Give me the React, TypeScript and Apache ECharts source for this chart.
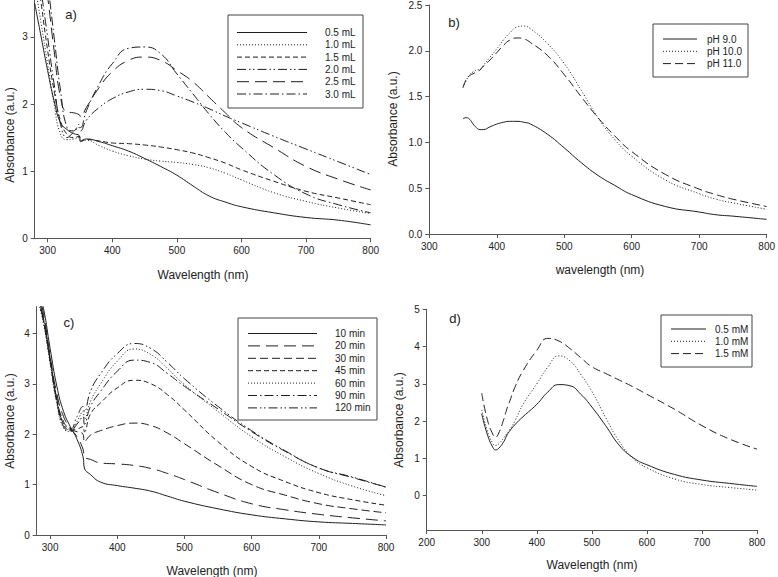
import React, { useEffect, useRef } from "react";
import * as echarts from "echarts";

// ---------- Panel a ----------
const aX = [280, 290, 300, 310, 320, 330, 340, 349, 351, 360, 380, 400, 425, 450, 475, 500, 525, 550, 575, 600, 650, 700, 750, 800];
const a05 = [3.5, 3.0, 2.5, 2.05, 1.72, 1.62, 1.56, 1.53, 1.45, 1.48, 1.44, 1.38, 1.3, 1.19, 1.07, 0.94, 0.78, 0.63, 0.54, 0.47, 0.38, 0.31, 0.27, 0.2];
const a10 = [3.8, 3.2, 2.6, 2.0, 1.55, 1.47, 1.48, 1.5, 1.45, 1.46, 1.38, 1.3, 1.23, 1.18, 1.15, 1.13, 1.1, 1.05, 0.97, 0.87, 0.68, 0.55, 0.45, 0.37];
const a15 = [4.2, 3.5, 2.8, 2.2, 1.75, 1.55, 1.5, 1.52, 1.44, 1.47, 1.45, 1.42, 1.41, 1.39, 1.36, 1.32, 1.27, 1.2, 1.12, 1.02, 0.85, 0.7, 0.6, 0.5];
const a20 = [4.5, 3.7, 3.0, 2.3, 1.7, 1.5, 1.58, 1.65, 1.6, 1.76, 1.95, 2.08, 2.18, 2.22, 2.2, 2.12, 2.03, 1.93, 1.82, 1.72, 1.52, 1.33, 1.14, 0.95];
const a25 = [5, 4.3, 3.6, 2.8, 2.1, 1.88, 1.87, 1.84, 1.81, 1.95, 2.25, 2.48, 2.65, 2.7, 2.65, 2.5, 2.33, 2.1, 1.87, 1.65, 1.35, 1.07, 0.88, 0.72];
const a30 = [5, 4.5, 3.8, 3.0, 2.2, 1.65, 1.6, 1.7, 1.65, 1.9, 2.3, 2.6, 2.83, 2.85, 2.75, 2.45, 2.15, 1.85, 1.58, 1.35, 0.95, 0.66, 0.5, 0.38];
const aNames = ["0.5 mL", "1.0 mL", "1.5 mL", "2.0 mL", "2.5 mL", "3.0 mL"];
const aTicksX = [300, 400, 500, 600, 700, 800];
const aTicksY = [0, 1, 2, 3];

// ---------- Panel b ----------
const bX = [350, 355, 360, 365, 370, 375, 380, 390, 400, 410, 420, 430, 440, 450, 475, 500, 525, 550, 575, 600, 650, 700, 725, 750, 800];
const bPH9 = [1.26, 1.27, 1.25, 1.2, 1.16, 1.14, 1.14, 1.17, 1.2, 1.22, 1.23, 1.23, 1.22, 1.2, 1.09, 0.94, 0.78, 0.64, 0.53, 0.43, 0.3, 0.24, 0.21, 0.195, 0.16];
const bPH10 = [1.6, 1.68, 1.74, 1.77, 1.79, 1.8, 1.84, 1.93, 2.02, 2.12, 2.2, 2.26, 2.27, 2.24, 2.08, 1.86, 1.57, 1.27, 1.03, 0.85, 0.59, 0.44, 0.38, 0.34, 0.27];
const bPH11 = [1.6, 1.69, 1.73, 1.75, 1.77, 1.79, 1.83, 1.9, 1.98, 2.06, 2.12, 2.14, 2.13, 2.09, 1.95, 1.74, 1.5, 1.27, 1.07, 0.9, 0.65, 0.49, 0.43, 0.38, 0.3];
const bNames = ["pH 9.0", "pH 10.0", "pH 11.0"];
const bTicksX = [300, 400, 500, 600, 700, 800];
const bTicksY = [0, 0.5, 1, 1.5, 2, 2.5];

// ---------- Panel c ----------
const cX = [280, 290, 300, 310, 320, 330, 340, 349, 351, 360, 375, 400, 425, 450, 475, 500, 550, 600, 650, 700, 750, 800];
const c10 = [5.0, 4.5, 3.7, 2.95, 2.45, 2.15, 1.9, 1.55, 1.33, 1.2, 1.05, 0.98, 0.93, 0.87, 0.77, 0.67, 0.52, 0.4, 0.32, 0.26, 0.23, 0.2];
const c20 = [4.9, 4.4, 3.55, 2.8, 2.35, 2.12, 1.95, 1.7, 1.55, 1.5, 1.43, 1.41, 1.38, 1.32, 1.22, 1.1, 0.84, 0.62, 0.5, 0.41, 0.34, 0.28];
const c30 = [4.85, 4.3, 3.5, 2.7, 2.25, 2.1, 2.05, 2.0, 1.85, 1.98, 2.07, 2.17, 2.22, 2.17, 2.02, 1.81, 1.38, 1.0, 0.79, 0.62, 0.52, 0.44];
const c45 = [4.8, 4.25, 3.45, 2.65, 2.2, 2.08, 2.1, 2.15, 2.05, 2.4, 2.62, 2.92, 3.07, 3.0, 2.78, 2.48, 1.85, 1.36, 1.06, 0.84, 0.7, 0.59];
const c60 = [4.75, 4.2, 3.4, 2.6, 2.12, 2.05, 2.25, 2.45, 2.3, 2.65, 3.0, 3.45, 3.69, 3.58, 3.3, 2.98, 2.45, 1.95, 1.55, 1.22, 0.97, 0.78];
const c90 = [4.8, 4.25, 3.45, 2.65, 2.15, 2.07, 2.2, 2.35, 2.2, 2.55, 2.85, 3.25, 3.47, 3.42, 3.2, 2.95, 2.5, 2.05, 1.66, 1.33, 1.14, 0.95];
const c120 = [4.85, 4.3, 3.5, 2.7, 2.2, 2.1, 2.35, 2.55, 2.45, 2.85, 3.2, 3.6, 3.8, 3.7, 3.42, 3.1, 2.55, 2.07, 1.67, 1.33, 1.15, 0.95];
const cNames = ["10 min", "20 min", "30 min", "45 min", "60 min", "90 min", "120 min"];
const cTicksX = [300, 400, 500, 600, 700, 800];
const cTicksY = [0, 1, 2, 3, 4];

// ---------- Panel d ----------
const dX = [300, 310, 320, 325, 330, 340, 345, 350, 360, 375, 400, 420, 440, 460, 480, 500, 525, 550, 575, 600, 650, 700, 750, 800];
const d05 = [2.2, 1.65, 1.3, 1.23, 1.26, 1.45, 1.6, 1.72, 1.9, 2.12, 2.45, 2.78, 2.98, 2.95, 2.72, 2.38, 1.88, 1.35, 1.02, 0.83, 0.57, 0.42, 0.33, 0.25];
const d10 = [2.3, 1.75, 1.4, 1.35, 1.38, 1.55, 1.65, 1.75, 2.0, 2.45, 3.0, 3.45, 3.75, 3.62, 3.25, 2.8, 2.1, 1.45, 1.0, 0.75, 0.45, 0.3, 0.22, 0.15];
const d15 = [2.75, 2.05, 1.65, 1.57, 1.65, 2.05, 2.3, 2.5, 2.9, 3.35, 3.9, 4.22, 4.15, 3.95, 3.7, 3.46, 3.28, 3.1, 2.92, 2.72, 2.32, 1.88, 1.52, 1.25];
const dNames = ["0.5 mM", "1.0 mM", "1.5 mM"];
const dTicksX = [200, 300, 400, 500, 600, 700, 800];
const dTicksY = [0, 1, 2, 3, 4, 5];

const FONT = "'Liberation Sans', Arial, sans-serif";
const LINE = "#1e1e1e";
const AXIS = "#555";

const SOLID: any = "solid";
const DOT = [1, 2];
const SHORT = [5, 3];
const MED = [8, 4];
const LONG = [12, 6];
const DASHDOT = [9, 3, 1.5, 3];
const DASHDOTDOT = [9, 3, 1.5, 2.5, 1.5, 3];

function mkSeries(grid: number, xs: number[], ys: number[], name: string, dash: any) {
  return {
    type: "line",
    name,
    xAxisIndex: grid,
    yAxisIndex: grid,
    data: xs.map((x, i) => [x, ys[i]]),
    showSymbol: false,
    symbol: "none",
    smooth: 0.5,
    clip: true,
    lineStyle: { color: LINE, width: 1, type: dash },
    z: 2,
  };
}

function xAxisCfg(grid: number, min: number, max: number, ticks: number[]) {
  return {
    gridIndex: grid,
    type: "value",
    min,
    max,
    axisLine: { show: true, onZero: false, lineStyle: { color: AXIS, width: 1 } },
    axisTick: { show: true, inside: false, length: 4, customValues: ticks, lineStyle: { color: AXIS } },
    axisLabel: { customValues: ticks, fontSize: 10, color: "#222", fontFamily: FONT, margin: 7 },
    splitLine: { show: false },
  };
}

function yAxisCfg(grid: number, min: number, max: number, ticks: number[], fmt?: (v: number) => string) {
  return {
    gridIndex: grid,
    type: "value",
    min,
    max,
    axisLine: { show: true, onZero: false, lineStyle: { color: AXIS, width: 1 } },
    axisTick: { show: true, inside: false, length: 4, customValues: ticks, lineStyle: { color: AXIS } },
    axisLabel: { customValues: ticks, fontSize: 10, color: "#222", fontFamily: FONT, margin: 7, formatter: fmt },
    splitLine: { show: false },
  };
}

function legendGraphics(
  box: { x1: number; y1: number; x2: number; y2: number },
  lx1: number,
  lx2: number,
  tx: number,
  y0: number,
  step: number,
  names: string[],
  dashes: any[]
) {
  const els: any[] = [
    {
      type: "rect",
      shape: { x: box.x1, y: box.y1, width: box.x2 - box.x1, height: box.y2 - box.y1 },
      style: { fill: "#fff", stroke: "#444", lineWidth: 1 },
      z: 10,
    },
  ];
  names.forEach((n, i) => {
    const y = y0 + i * step;
    els.push({
      type: "line",
      shape: { x1: lx1, y1: y, x2: lx2, y2: y },
      style: { stroke: LINE, lineWidth: 1, lineDash: dashes[i] === "solid" ? null : dashes[i] },
      z: 11,
    });
    els.push({
      type: "text",
      x: tx,
      y,
      style: { text: n, fontSize: 10, fontFamily: FONT, fill: "#222", textAlign: "left", textVerticalAlign: "middle" },
      z: 11,
    });
  });
  return els;
}

function txt(x: number, y: number, text: string, size: number, rot = 0) {
  return {
    type: "text",
    x,
    y,
    rotation: rot,
    style: { text, fontSize: size, fontFamily: FONT, fill: "#222", textAlign: "center", textVerticalAlign: "middle" },
    z: 12,
  };
}

export default function App() {
  const ref = useRef<HTMLDivElement>(null);
  useEffect(() => {
    if (!ref.current) return;
    const chart = echarts.init(ref.current, null, { renderer: "svg" });
    const aDash = [SOLID, DOT, SHORT, DASHDOTDOT, LONG, DASHDOT];
    const bDash = [SOLID, DOT, MED];
    const cDash = [SOLID, LONG, MED, SHORT, DOT, DASHDOT, DASHDOTDOT];
    const dDash = [SOLID, DOT, MED];

    const series: any[] = [];
    [a05, a10, a15, a20, a25, a30].forEach((s, i) => series.push(mkSeries(0, aX, s, aNames[i], aDash[i])));
    [bPH9, bPH10, bPH11].forEach((s, i) => series.push(mkSeries(1, bX, s, bNames[i], bDash[i])));
    [c10, c20, c30, c45, c60, c90, c120].forEach((s, i) => series.push(mkSeries(2, cX, s, cNames[i], cDash[i])));
    [d05, d10, d15].forEach((s, i) => series.push(mkSeries(3, dX, s, dNames[i], dDash[i])));

    const graphic: any[] = [
      ...legendGraphics({ x1: 228, y1: 15, x2: 363, y2: 108 }, 237, 307, 325, 32.5, 12.3, aNames, aDash),
      ...legendGraphics({ x1: 653, y1: 24, x2: 748, y2: 77 }, 663, 697, 707, 39, 12.3, bNames, bDash),
      ...legendGraphics({ x1: 238, y1: 318, x2: 377, y2: 420 }, 248, 317, 335, 333.5, 12.4, cNames, cDash),
      ...legendGraphics({ x1: 661, y1: 315, x2: 752, y2: 367 }, 671, 706, 715, 329, 12.3, dNames, dDash),
      txt(71, 14, "a)", 13),
      txt(454, 22, "b)", 13),
      txt(69, 322, "c)", 13),
      txt(455, 318, "d)", 13),
      txt(203, 275, "Wavelength (nm)", 12),
      txt(600, 270, "wavelength (nm)", 12),
      txt(212, 571, "Wavelength (nm)", 12),
      txt(592, 565, "Wavelength (nm)", 12),
      txt(10, 135, "Absorbance (a.u.)", 12, Math.PI / 2),
      txt(393, 119, "Absorbance (a.u.)", 12, Math.PI / 2),
      txt(10, 421, "Absorbance (a.u.)", 12, Math.PI / 2),
      txt(399, 420, "Absorbance (a.u.)", 12, Math.PI / 2),
    ];

    chart.setOption({
      animation: false,
      backgroundColor: "#fff",
      grid: [
        { left: 34.7, top: 0, width: 336, height: 238.3 },
        { left: 429.3, top: 4, width: 341.4, height: 230 },
        { left: 36.7, top: 306.7, width: 349.3, height: 228.3 },
        { left: 426.7, top: 309.3, width: 330.3, height: 220.7 },
      ],
      xAxis: [
        xAxisCfg(0, 280, 800, aTicksX),
        xAxisCfg(1, 300, 800, bTicksX),
        xAxisCfg(2, 280, 800, cTicksX),
        xAxisCfg(3, 200, 800, dTicksX),
      ],
      yAxis: [
        yAxisCfg(0, 0, 3.55, aTicksY),
        yAxisCfg(1, 0, 2.5, bTicksY, (v: number) => v.toFixed(1)),
        yAxisCfg(2, 0, 4.53, cTicksY),
        yAxisCfg(3, -0.92, 5, dTicksY),
      ],
      series,
      graphic,
    });
    return () => chart.dispose();
  }, []);
  return <div ref={ref} style={{ position: "absolute", left: 0, top: 0, width: 778, height: 577 }} />;
}
